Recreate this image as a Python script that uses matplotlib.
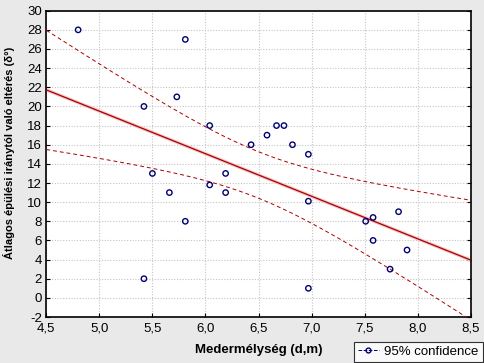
import numpy as np
import matplotlib
matplotlib.use("Agg")
import matplotlib.pyplot as plt
from matplotlib.lines import Line2D

plt.rcParams['font.family'] = ['Liberation Sans', 'DejaVu Sans']

depth = [4.80, 5.42, 5.50, 5.42, 5.66, 5.73, 5.81, 5.81, 6.04, 6.04, 6.19, 6.19,
         6.43, 6.58, 6.67, 6.74, 6.82, 6.97, 6.97, 6.97, 7.51, 7.58, 7.58, 7.82,
         7.74, 7.90]
deviation = [28, 20, 13, 2, 11, 21, 27, 8, 18, 11.8, 13, 11,
             16, 17, 18, 18, 16, 15, 10.1, 1, 8, 8.4, 6, 9,
             3, 5]

xticks = [4.5, 5.0, 5.5, 6.0, 6.5, 7.0, 7.5, 8.0, 8.5]
yticks = list(range(-2, 31, 2))

x = np.array(depth)
y = np.array(deviation)
n = len(x)
b, a = np.polyfit(x, y, 1)
xs = np.linspace(4.5, 8.5, 200)
yhat = a + b * xs
resid = y - (a + b * x)
s = np.sqrt(np.sum(resid**2) / (n - 2))
sxx = np.sum((x - x.mean())**2)
t = 2.0639  # t(0.975, 24)
se = s * np.sqrt(1.0 / n + (xs - x.mean())**2 / sxx)
upper = yhat + t * se
lower = yhat - t * se

fig = plt.figure(figsize=(4.84, 3.63), dpi=100, facecolor='#e9e9e9')
ax = fig.add_axes([0.0957, 0.1267, 0.8768, 0.8438])
ax.set_facecolor('white')

ax.plot(xs, yhat, color='#f6c4c4', lw=2.4, zorder=2)
ax.plot(xs, yhat, color='#a80000', lw=0.9, zorder=3)
ax.plot(xs, upper, color='#a80000', lw=0.7, ls=(0, (4, 3)), zorder=3)
ax.plot(xs, lower, color='#a80000', lw=0.7, ls=(0, (4, 3)), zorder=3)
ax.scatter(x, y, s=15, facecolors='none', edgecolors='#000070', linewidths=1.0, zorder=4)

ax.set_xlim(4.5, 8.5)
ax.set_ylim(-2, 30)
ax.set_xticks(xticks)
ax.set_xticklabels([f"{v:.1f}".replace('.', ',') for v in xticks])
ax.set_yticks(yticks)
ax.set_yticklabels([str(v) for v in yticks])
ax.grid(True, color='#c4c4c4', ls=(0, (1, 1.5)), lw=0.8)
ax.tick_params(axis='both', labelsize=9.5, color='black', length=3)
ax.tick_params(axis='y', right=True, direction='in', pad=3)
ax.tick_params(axis='x', direction='in', pad=4)
for sp in ax.spines.values():
    sp.set_linewidth(1.2)

ax.set_xlabel('Medermélység (d,m)', fontsize=9.5, fontweight='bold', labelpad=7)
ax.set_ylabel('Átlagos épülési iránytól való eltérés (δ°)', fontsize=8.0, fontweight='bold')
ax.yaxis.set_label_coords(-0.073, 0.535)

handle = Line2D([0], [0], color='#000070', ls='--', lw=0.7, marker='o', markersize=3.5,
                markerfacecolor='none', markeredgecolor='#000070')
leg = fig.legend([handle], ['95% confidence'], loc='lower right', bbox_to_anchor=(0.997, 0.003),
                 fontsize=9.5, frameon=True, fancybox=False, edgecolor='black',
                 handlelength=1.6, handletextpad=0.4, borderpad=0.3, borderaxespad=0)
leg.get_frame().set_facecolor('white')
leg.get_frame().set_linewidth(0.8)

fig.savefig('out.png', dpi=100, facecolor=fig.get_facecolor())
